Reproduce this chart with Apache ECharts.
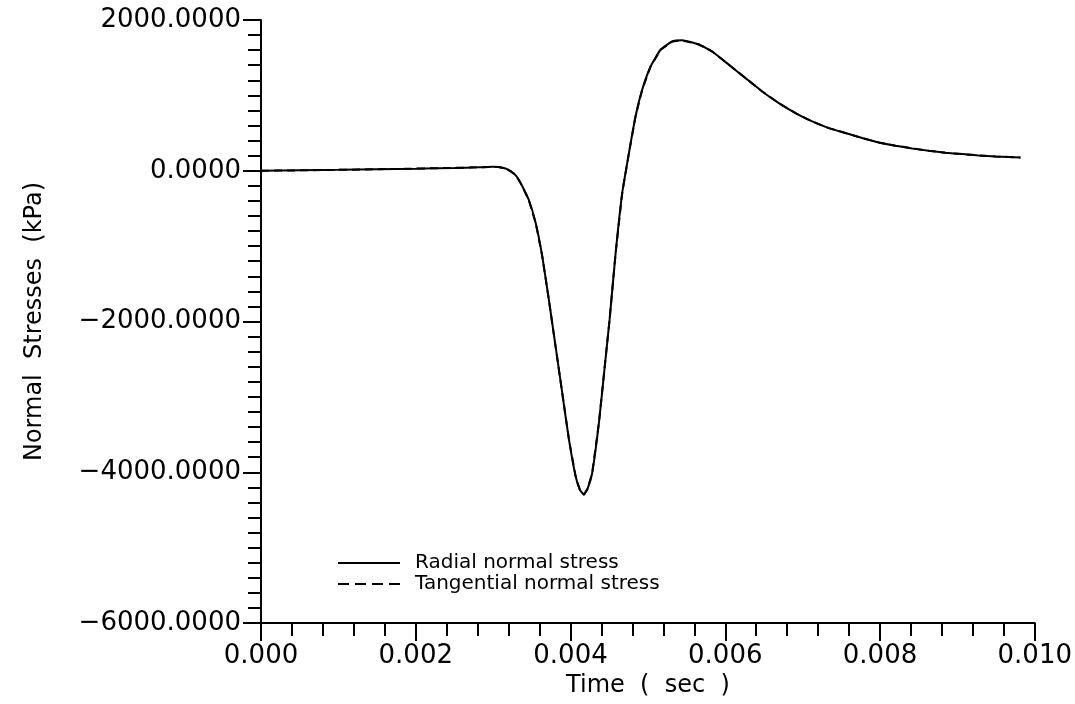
<!DOCTYPE html>
<html>
<head>
<meta charset="utf-8">
<script src="https://cdn.jsdelivr.net/npm/echarts@6/dist/echarts.min.js"></script>
<style>
html,body{margin:0;padding:0;background:#fff;}
#chart{width:1075px;height:704px;}
</style>
</head>
<body>
<div id="chart"></div>
<script>
// Time (sec)
const timeValues = [0, 0.0005, 0.001, 0.0015, 0.002, 0.0025, 0.0028, 0.0030, 0.00307, 0.00316, 0.00323, 0.0033, 0.003355, 0.00346, 0.00355, 0.003635, 0.00372, 0.003807, 0.003893, 0.00398, 0.004066, 0.00412, 0.004173, 0.00422, 0.00428, 0.004367, 0.00444, 0.004505, 0.004583, 0.004668, 0.004755, 0.00484, 0.004926, 0.005035, 0.005164, 0.005314, 0.00544, 0.005659, 0.005831, 0.006047, 0.006262, 0.006477, 0.006692, 0.006908, 0.007123, 0.007339, 0.007554, 0.007769, 0.007984, 0.0082, 0.008415, 0.00863, 0.008846, 0.009061, 0.009276, 0.009492, 0.009815];
// Radial normal stress (kPa)
const radialStress = [0, 5, 12, 20, 28, 38, 45, 52, 50, 30, -9, -70, -163, -385, -694, -1136, -1711, -2330, -2948, -3568, -4054, -4230, -4297, -4220, -4010, -3346, -2620, -1976, -1092, -296, 235, 720, 1074, 1383, 1605, 1715, 1730, 1675, 1582, 1406, 1229, 1052, 898, 765, 654, 566, 500, 434, 375, 332, 296, 265, 239, 221, 203, 190, 176];
// Tangential normal stress (kPa) - overlaps radial curve in the picture
const tangentialStress = [0, 5, 12, 20, 28, 38, 45, 52, 50, 30, -9, -70, -163, -385, -694, -1136, -1711, -2330, -2948, -3568, -4054, -4230, -4297, -4220, -4010, -3346, -2620, -1976, -1092, -296, 235, 720, 1074, 1383, 1605, 1715, 1730, 1675, 1582, 1406, 1229, 1052, 898, 765, 654, 566, 500, 434, 375, 332, 296, 265, 239, 221, 203, 190, 176];
const seriesNames = ['Radial normal stress', 'Tangential normal stress'];
const xTitle = 'Time  (  sec  )';
const yTitle = 'Normal  Stresses  (kPa)';

const FONT = '"DejaVu Sans", sans-serif';
const chart = echarts.init(document.getElementById('chart'), null, {renderer: 'canvas'});
const zip = (xs, ys) => xs.map((x, i) => [x, ys[i]]);

chart.setOption({
  backgroundColor: '#ffffff',
  animation: false,
  grid: {left: 261, right: 39, top: 20, bottom: 81, containLabel: false},
  legend: {
    orient: 'vertical',
    left: 338, top: 553, padding: 0,
    itemWidth: 62, itemHeight: 10, itemGap: 1,
    textStyle: {fontFamily: FONT, fontSize: 20, color: '#000', padding: [0, 0, 0, 10]},
    data: [
      {name: seriesNames[0], icon: 'path://M0,0 L62,0 L62,2 L0,2 Z'},
      {name: seriesNames[1], icon: 'path://M0,0 L11,0 L11,2 L0,2 Z M17,0 L28,0 L28,2 L17,2 Z M34,0 L45,0 L45,2 L34,2 Z M51,0 L62,0 L62,2 L51,2 Z'}
    ]
  },
  xAxis: {
    type: 'value', min: 0, max: 0.010, interval: 0.002,
    name: xTitle, nameLocation: 'middle', nameGap: 47,
    nameTextStyle: {fontFamily: FONT, fontSize: 24, color: '#000'},
    axisLine: {show: true, onZero: false, lineStyle: {color: '#000', width: 2}},
    axisTick: {show: true, inside: false, length: 18, lineStyle: {color: '#000', width: 2}},
    minorTick: {show: true, splitNumber: 5, length: 13, lineStyle: {color: '#000', width: 2}},
    axisLabel: {fontFamily: FONT, fontSize: 26, color: '#000', margin: 20, formatter: v => v.toFixed(3)},
    splitLine: {show: false}
  },
  yAxis: {
    type: 'value', min: -6000, max: 2000, interval: 2000,
    name: yTitle, nameLocation: 'middle', nameGap: 214, nameRotate: 90,
    nameTextStyle: {fontFamily: FONT, fontSize: 24, color: '#000'},
    axisLine: {show: true, onZero: false, lineStyle: {color: '#000', width: 2}},
    axisTick: {show: true, inside: false, length: 18, lineStyle: {color: '#000', width: 2}},
    minorTick: {show: true, splitNumber: 10, length: 13, lineStyle: {color: '#000', width: 2}},
    axisLabel: {fontFamily: FONT, fontSize: 26, color: '#000', margin: 20,
      formatter: v => (v < 0 ? '\u2212' : '') + Math.abs(v).toFixed(4)},
    splitLine: {show: false}
  },
  series: [
    {
      name: seriesNames[1], type: 'line', data: zip(timeValues, tangentialStress),
      showSymbol: false, symbol: 'none', z: 2,
      lineStyle: {color: '#000', width: 2, type: [8, 5]}, itemStyle: {color: '#000'}
    },
    {
      name: seriesNames[0], type: 'line', data: zip(timeValues, radialStress),
      showSymbol: false, symbol: 'none', z: 3, smooth: 0.15,
      lineStyle: {color: '#000', width: 2, type: 'solid'}, itemStyle: {color: '#000'}
    }
  ]
});
</script>
</body>
</html>
